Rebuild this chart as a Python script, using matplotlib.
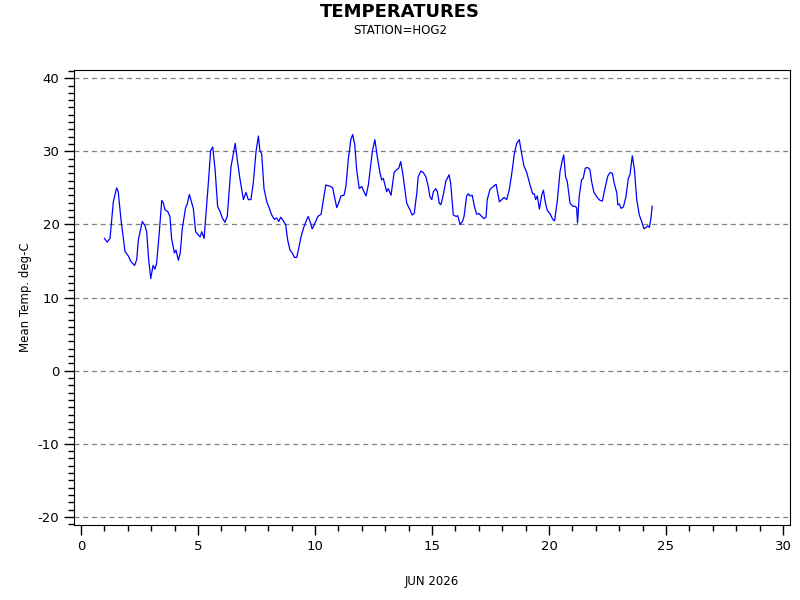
import matplotlib
matplotlib.use("Agg")
import matplotlib.pyplot as plt
from matplotlib.ticker import MultipleLocator

plt.rcParams["axes.unicode_minus"] = False

# day of month (fractional) and mean temperature
days = [
    1.00, 1.12, 1.24, 1.38, 1.52, 1.59, 1.71, 1.88, 2.02, 2.14, 2.29, 2.38, 2.45, 2.62,
    2.74, 2.81, 2.88, 2.98, 3.08, 3.16, 3.23, 3.33, 3.45, 3.52, 3.59, 3.70, 3.80, 3.87,
    3.99, 4.06, 4.16, 4.24, 4.33, 4.47, 4.53, 4.63, 4.73, 4.80, 4.90, 5.09, 5.16, 5.26,
    5.44, 5.54, 5.63, 5.73, 5.84, 5.94, 6.04, 6.15, 6.25, 6.41, 6.51, 6.59, 6.68, 6.79,
    6.94, 7.05, 7.15, 7.26, 7.36, 7.48, 7.58, 7.65, 7.72, 7.82, 7.94, 8.05, 8.15, 8.26,
    8.36, 8.45, 8.53, 8.65, 8.75, 8.83, 8.93, 9.03, 9.12, 9.22, 9.32, 9.40, 9.53, 9.65,
    9.71, 9.79, 9.88, 10.00, 10.12, 10.26, 10.36, 10.46, 10.57, 10.67, 10.76, 10.83,
    10.93, 11.03, 11.11, 11.24, 11.32, 11.42, 11.53, 11.61, 11.70, 11.78, 11.89, 12.00,
    12.06, 12.18, 12.28, 12.45, 12.56, 12.66, 12.78, 12.85, 12.92, 13.06, 13.13, 13.25,
    13.38, 13.49, 13.58, 13.66, 13.75, 13.92, 14.06, 14.15, 14.24, 14.35, 14.41, 14.52,
    14.63, 14.74, 14.84, 14.91, 14.99, 15.06, 15.16, 15.23, 15.31, 15.38, 15.48, 15.59,
    15.73, 15.80, 15.91, 16.03, 16.10, 16.20, 16.30, 16.37, 16.48, 16.55, 16.62, 16.72,
    16.81, 16.91, 17.01, 17.12, 17.22, 17.31, 17.36, 17.48, 17.62, 17.74, 17.88, 17.98,
    18.08, 18.19, 18.30, 18.41, 18.52, 18.62, 18.73, 18.83, 18.93, 19.05, 19.19, 19.30,
    19.37, 19.43, 19.50, 19.59, 19.69, 19.76, 19.84, 19.93, 20.04, 20.16, 20.24, 20.36,
    20.47, 20.57, 20.63, 20.71, 20.78, 20.90, 21.01, 21.11, 21.18, 21.22, 21.29, 21.39,
    21.46, 21.55, 21.65, 21.75, 21.82, 21.92, 22.06, 22.18, 22.28, 22.39, 22.51, 22.61,
    22.71, 22.79, 22.90, 22.94, 23.01, 23.08, 23.18, 23.29, 23.39, 23.46, 23.56, 23.65,
    23.75, 23.86, 23.97, 24.06, 24.15, 24.22, 24.29, 24.36, 24.41,
]
temps = [
    18.1, 17.6, 18.1, 23.1, 25.0, 24.5, 20.6, 16.3, 15.7, 14.9, 14.4, 15.2, 17.9, 20.4,
    19.8, 18.9, 15.6, 12.6, 14.4, 13.9, 14.7, 18.3, 23.3, 22.9, 22.0, 21.8, 21.1, 18.1,
    16.1, 16.5, 15.1, 16.1, 19.5, 22.3, 22.7, 24.1, 23.0, 22.2, 19.0, 18.3, 19.0, 18.1,
    25.6, 30.1, 30.6, 27.5, 22.4, 21.8, 20.9, 20.3, 21.1, 27.9, 29.7, 31.1, 28.8, 26.3,
    23.4, 24.4, 23.4, 23.4, 25.6, 30.0, 32.1, 30.0, 29.7, 24.9, 23.1, 22.2, 21.3, 20.7,
    20.9, 20.4, 21.0, 20.5, 19.9, 17.9, 16.5, 16.1, 15.5, 15.5, 17.0, 18.3, 19.7, 20.7,
    21.1, 20.4, 19.4, 20.2, 21.1, 21.4, 23.4, 25.4, 25.3, 25.2, 25.0, 23.8,
    22.3, 23.1, 23.9, 24.0, 25.2, 28.8, 31.6, 32.3, 30.9, 27.5, 24.9, 25.2,
    24.7, 23.9, 25.4, 30.0, 31.6, 29.3, 27.0, 26.1, 26.3, 24.5, 24.9, 24.0,
    27.1, 27.5, 27.7, 28.6, 27.0, 22.9, 22.0, 21.3, 21.5, 24.3, 26.5, 27.3,
    27.1, 26.5, 25.2, 23.8, 23.4, 24.5, 24.9, 24.5, 22.9, 22.7, 24.0, 25.9,
    26.8, 25.6, 21.3, 21.1, 21.2, 20.0, 20.4, 21.1, 23.9, 24.2, 23.9, 24.0,
    22.5, 21.4, 21.5, 21.1, 20.8, 21.0, 23.4, 24.8, 25.2, 25.5, 23.1, 23.4,
    23.7, 23.4, 24.7, 27.0, 29.7, 31.1, 31.6, 29.7, 28.0, 27.1, 25.4, 24.2,
    24.2, 23.4, 23.9, 22.1, 24.0, 24.7, 23.1, 21.9, 21.5, 20.7, 20.5, 23.4,
    27.2, 28.8, 29.5, 26.5, 25.9, 22.9, 22.5, 22.5, 22.3, 20.2, 23.8, 26.1,
    26.3, 27.7, 27.8, 27.5, 25.9, 24.4, 23.7, 23.3, 23.2, 24.9, 26.6, 27.1,
    27.0, 25.6, 24.3, 22.7, 22.8, 22.2, 22.4, 23.8, 26.3, 26.8, 29.4, 27.5,
    23.4, 21.3, 20.3, 19.4, 19.6, 19.8, 19.6, 20.9, 22.5,
]

fig = plt.figure(figsize=(8, 6), dpi=100)
ax = fig.add_axes([0.0925, 0.125, 0.895, 0.758])

ax.plot(days, temps, color="blue", linewidth=0.9)

ax.set_xlim(-0.3, 30.3)
ax.set_ylim(-21.1, 41.1)
ax.xaxis.set_major_locator(MultipleLocator(5))
ax.xaxis.set_minor_locator(MultipleLocator(1))
ax.yaxis.set_major_locator(MultipleLocator(10))
ax.yaxis.set_minor_locator(MultipleLocator(1))
ax.tick_params(which="major", length=7, width=1, labelsize=9.5, direction="out")
ax.tick_params(which="minor", length=4, width=1, direction="out")
ax.grid(True, axis="y", which="major", linestyle=(0, (4, 3)), color="gray", linewidth=0.9)

ax.set_xlabel("JUN 2026", fontsize=8.5, labelpad=16)
ax.set_ylabel("Mean Temp. deg-C", fontsize=8.5, labelpad=4)

fig.text(0.5, 0.98, "TEMPERATURES", ha="center", va="center", fontsize=13, fontweight="bold")
fig.text(0.5, 0.95, "STATION=HOG2", ha="center", va="center", fontsize=8.5)

fig.savefig("out.png", dpi=100)
